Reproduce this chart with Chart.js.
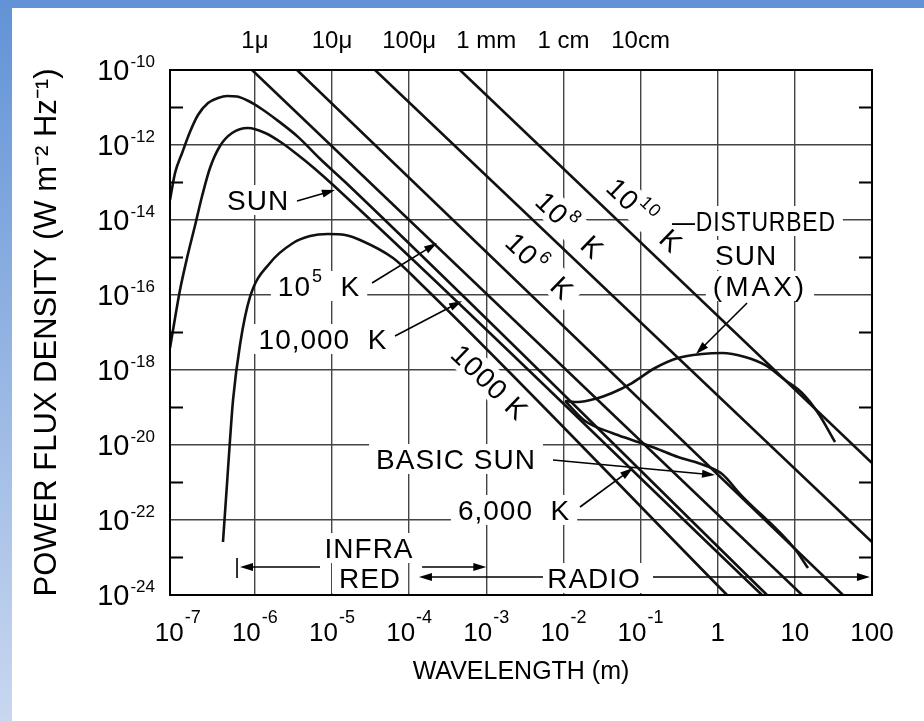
<!DOCTYPE html>
<html>
<head>
<meta charset="utf-8">
<title>Power flux density of black bodies and the sun</title>
<script src="https://cdn.jsdelivr.net/npm/chart.js@4.4.1/dist/chart.umd.min.js"></script>
<style>
  html, body { margin: 0; padding: 0; background: #fff; }
  #frame { position: relative; width: 924px; height: 721px; overflow: hidden; }
  #bandTop { position: absolute; left: 0; top: 0; width: 924px; height: 8px; background: #6193d6; }
  #bandLeft { position: absolute; left: 0; top: 0; width: 12px; height: 721px; background: linear-gradient(#6193d6, #c9d7f0); }
  canvas { position: absolute; left: 0; top: 0; }
</style>
</head>
<body>
<div id="frame">
  <div id="bandTop"></div>
  <div id="bandLeft"></div>
  <canvas id="fluxChart" width="924" height="721"></canvas>
</div>
<script>
// axes  (^{..} marks a raised exponent)
const xTickValues = [1e-7, 1e-6, 1e-5, 1e-4, 1e-3, 1e-2, 1e-1, 1, 10, 100];
const xTickLabels = ['10^{-7}', '10^{-6}', '10^{-5}', '10^{-4}', '10^{-3}', '10^{-2}', '10^{-1}', '1', '10', '100'];
const topTickValues = [1e-6, 1e-5, 1e-4, 1e-3, 1e-2, 1e-1];
const topTickLabels = ['1μ', '10μ', '100μ', '1 mm', '1 cm', '10cm'];
const yTickValues = [1e-24, 1e-23, 1e-22, 1e-21, 1e-20, 1e-19, 1e-18, 1e-17, 1e-16, 1e-15, 1e-14, 1e-13, 1e-12, 1e-11, 1e-10];
const yTickLabels = ['10^{-24}', '', '10^{-22}', '', '10^{-20}', '', '10^{-18}', '', '10^{-16}', '', '10^{-14}', '', '10^{-12}', '', '10^{-10}'];

// wavelength (m) and flux density (W m-2 Hz-1)
const lambda10k = [7.94e-8, 9.23e-8, 1.14e-7, 1.44e-7, 1.83e-7, 2.47e-7, 3.33e-7, 4.36e-7, 5.87e-7, 8.15e-7, 1.24e-6, 2.0e-6, 3.62e-6, 6.98e-6, 1.48e-5, 4.36];
const flux10k = [3.41e-14, 1.79e-13, 6.12e-13, 2.22e-12, 6.31e-12, 1.32e-11, 1.79e-11, 2.03e-11, 1.96e-11, 1.51e-11, 9.0e-12, 4.4e-12, 1.65e-12, 4.3e-13, 1.03e-13, 1e-24];

const lambdaSun = [7.94e-8, 9.23e-8, 1.07e-7, 1.32e-7, 1.67e-7, 2.07e-7, 2.62e-7, 3.53e-7, 5.06e-7, 8.15e-7, 1.36e-6, 2.25e-6, 3.62e-6, 6.03e-6, 1.0e-5, 3.75];
const fluxSun = [3.86e-18, 2.44e-17, 1.36e-16, 9.70e-16, 6.92e-15, 4.37e-14, 2.44e-13, 9.40e-13, 2.09e-12, 2.84e-12, 2.09e-12, 1.13e-12, 5.4e-13, 2.3e-13, 9.1e-14, 1e-24];

const lambda1k = [3.86e-7, 4.36e-7, 4.76e-7, 5.21e-7, 6.41e-7, 8.65e-7, 1.57e-6, 3.13e-6, 5.19e-6, 8.87e-6, 1.48e-5, 2.31e-5, 6.18e-5, 1.38e-4, 1.32];
const flux1k = [2.59e-23, 9.70e-22, 1.36e-20, 1.58e-19, 4.64e-18, 8.85e-17, 7.13e-16, 2.44e-15, 3.74e-15, 4.24e-15, 3.98e-15, 2.93e-15, 9.70e-16, 2.09e-16, 1e-24];

const lambda1e5 = [9.19e-7, 12.4];
const flux1e5 = [1e-10, 1e-24];
const lambda1e6 = [3.52e-6, 42.1];
const flux1e6 = [1e-10, 1e-24];
const lambda1e8 = [3.61e-5, 100];
const flux1e8 = [1e-10, 2.59e-23];
const lambda1e10 = [4.56e-4, 100];
const flux1e10 = [1e-10, 3.31e-21];

const lambdaDisturbed = [0.0105, 0.0155, 0.0257, 0.0427, 0.0774, 0.154, 0.305, 0.627, 1.14, 2.26, 4.10, 7.46, 12.4, 20.0, 33.2];
const fluxDisturbed = [1.49e-19, 1.40e-19, 1.69e-19, 2.44e-19, 4.50e-19, 1.13e-18, 2.09e-18, 2.67e-18, 2.84e-18, 2.22e-18, 1.36e-18, 5.41e-19, 2.44e-19, 7.13e-20, 1.20e-20];

const lambdaBasic = [0.0105, 0.0191, 0.0427, 0.0774, 0.154, 0.305, 0.556, 1.14, 1.95, 10.0, 14.8];
const fluxBasic = [1.49e-19, 4.37e-20, 2.09e-20, 1.36e-20, 8.32e-21, 4.79e-21, 3.31e-21, 1.69e-21, 4.93e-22, 1.69e-23, 5.25e-24];

// lettering on the plot, placed in data units (wavelength, flux)
const notes = [
  { text: 'SUN', at: [1.10e-6, 3.41e-14] },
  { text: '10^{5}  K', at: [6.79e-6, 1.74e-16] },
  { text: '10,000  K', at: [7.64e-6, 6.71e-18] },
  { text: '1000 K', at: [1.12e-3, 4.79e-19], angle: 44 },
  { text: '10^{6}  K', at: [4.97e-3, 5.93e-16], angle: 44 },
  { text: '10^{8}  K', at: [0.0122, 7.36e-15], angle: 44 },
  { text: '10^{10}  K', at: [0.114, 1.36e-14], angle: 44 },
  { text: '—DISTURBED', at: [0.256, 9.40e-15], align: 'left', squeeze: 0.82 },
  { text: 'SUN', at: [2.33, 1.17e-15] },
  { text: '(MAX)', at: [3.53, 1.74e-16], spacing: 3 },
  { text: 'BASIC SUN', at: [4.05e-4, 4.24e-21] },
  { text: '6,000  K', at: [2.29e-3, 1.85e-22] },
  { text: 'INFRA', at: [3.02e-5, 1.79e-23] },
  { text: 'RED', at: [3.11e-5, 2.84e-24] },
  { text: 'RADIO', at: [0.0249, 2.84e-24] }
];

const arrows = [
  { from: [3.52e-6, 3.21e-14], to: [1.09e-5, 6.31e-14] },   // SUN
  { from: [3.30e-5, 2.09e-16], to: [2.30e-4, 2.44e-15] },   // 10^5 K
  { from: [6.56e-5, 8.07e-18], to: [4.84e-4, 6.92e-17] },   // 10,000 K
  { from: [2.40, 6.12e-17], to: [0.523, 2.67e-18] },        // disturbed sun
  { from: [7.33e-3, 3.98e-21], to: [0.923, 1.58e-21] },     // basic sun
  { from: [0.0164, 2.22e-22], to: [0.0798, 2.44e-21] },     // 6,000 K
  { from: [6.98e-6, 5.58e-24], to: [6.41e-7, 5.58e-24] },   // infrared band
  { from: [1.47e-4, 5.58e-24], to: [1.0e-3, 5.58e-24] },
  { from: [5.43e-3, 3.02e-24], to: [1.34e-4, 3.02e-24] },   // radio band
  { from: [0.145, 3.02e-24], to: [94, 3.02e-24] }
];
const bandStop = { at: 5.87e-7, from: 9.7e-24, to: 2.84e-24 };

const family = '"Liberation Sans", Arial, sans-serif';

// split "10^{-12}" into plain and raised pieces
function pieces(str) {
  const out = [];
  const re = /\^\{([^}]*)\}/g;
  let last = 0, m;
  while ((m = re.exec(str))) {
    if (m.index > last) out.push({ t: str.slice(last, m.index), sup: false });
    out.push({ t: m[1], sup: true });
    last = re.lastIndex;
  }
  if (last < str.length) out.push({ t: str.slice(last), sup: false });
  return out;
}

function richWidth(ctx, str, st) {
  return pieces(str).reduce((w, p) => {
    ctx.font = (p.sup ? st.sup : st.size) + 'px ' + family;
    return w + ctx.measureText(p.t).width + (p.sup ? 1 : 0);
  }, 0);
}

// draws from left edge x on baseline y
function drawRich(ctx, str, x, y, st) {
  ctx.textAlign = 'left';
  ctx.textBaseline = 'alphabetic';
  pieces(str).forEach(p => {
    ctx.font = (p.sup ? st.sup : st.size) + 'px ' + family;
    if (p.sup) x += 1;
    ctx.fillText(p.t, x, p.sup ? y - st.rise : y);
    x += ctx.measureText(p.t).width;
  });
}

const noteStyle = { size: 28, sup: 18, rise: 14 };
const xTickStyle = { size: 26, sup: 18, rise: 18 };
const yTickStyle = { size: 29, sup: 17, rise: 13 };

const pairs = (xs, ys) => xs.map((x, i) => ({ x, y: ys[i] }));
const curve = (label, xs, ys, smooth) => ({
  label,
  data: pairs(xs, ys),
  xAxisID: 'x',
  yAxisID: 'y',
  borderColor: '#111',
  borderWidth: 2.6,
  pointRadius: 0,
  fill: false,
  tension: 0,
  cubicInterpolationMode: smooth ? 'monotone' : 'default'
});

const notePlugin = {
  id: 'notes',
  beforeDatasetsDraw(chart) {
    const { ctx, chartArea: a } = chart;
    const x = chart.scales.x, y = chart.scales.y;
    ctx.save();
    ctx.beginPath();
    ctx.rect(a.left + 1, a.top + 1, a.right - a.left - 2, a.bottom - a.top - 2);
    ctx.clip();

    const placed = notes.map(n => {
      ctx.letterSpacing = (n.spacing || 1) + 'px';
      return {
        n,
        px: x.getPixelForValue(n.at[0]),
        py: y.getPixelForValue(n.at[1]),
        w: richWidth(ctx, n.text, noteStyle)
      };
    });

    // grid is broken where the lettering sits
    placed.forEach(({ n, px, py, w }) => {
      ctx.save();
      ctx.translate(px, py);
      ctx.rotate((n.angle || 0) * Math.PI / 180);
      const sw = w * (n.squeeze || 1);
      const left = n.align === 'left' ? 0 : -sw / 2;
      ctx.fillStyle = '#fff';
      ctx.fillRect(left - 7, -15, sw + 14, 30);
      ctx.restore();
    });

    placed.forEach(({ n, px, py, w }) => {
      ctx.save();
      ctx.translate(px, py);
      ctx.rotate((n.angle || 0) * Math.PI / 180);
      ctx.scale(n.squeeze || 1, 1);
      ctx.letterSpacing = (n.spacing || 1) + 'px';
      ctx.fillStyle = '#000';
      drawRich(ctx, n.text, n.align === 'left' ? 0 : -w / 2, 10, noteStyle);
      ctx.restore();
    });

    ctx.letterSpacing = '0px';
    ctx.strokeStyle = '#000';
    ctx.fillStyle = '#000';
    ctx.lineWidth = 1.6;
    arrows.forEach(ar => {
      const x0 = x.getPixelForValue(ar.from[0]), y0 = y.getPixelForValue(ar.from[1]);
      const x1 = x.getPixelForValue(ar.to[0]), y1 = y.getPixelForValue(ar.to[1]);
      const ang = Math.atan2(y1 - y0, x1 - x0);
      const c = Math.cos(ang), s = Math.sin(ang);
      ctx.beginPath();
      ctx.moveTo(x0, y0);
      ctx.lineTo(x1 - 6 * c, y1 - 6 * s);
      ctx.stroke();
      ctx.beginPath();
      ctx.moveTo(x1, y1);
      ctx.lineTo(x1 - 13 * c + 4 * s, y1 - 13 * s - 4 * c);
      ctx.lineTo(x1 - 13 * c - 4 * s, y1 - 13 * s + 4 * c);
      ctx.closePath();
      ctx.fill();
    });
    const bx = x.getPixelForValue(bandStop.at);
    ctx.beginPath();
    ctx.moveTo(bx, y.getPixelForValue(bandStop.from));
    ctx.lineTo(bx, y.getPixelForValue(bandStop.to));
    ctx.stroke();
    ctx.restore();
  },
  afterDraw(chart) {
    const { ctx, chartArea: a } = chart;
    const x = chart.scales.x, y = chart.scales.y;
    ctx.save();
    ctx.strokeStyle = '#000';
    ctx.lineWidth = 2;
    ctx.strokeRect(a.left, a.top, a.right - a.left, a.bottom - a.top);
    // short inward ticks at the odd decades, both sides
    yTickValues.forEach((v, i) => {
      if (yTickLabels[i] !== '') return;
      const py = y.getPixelForValue(v);
      ctx.beginPath();
      ctx.moveTo(a.left, py); ctx.lineTo(a.left + 13, py);
      ctx.moveTo(a.right - 13, py); ctx.lineTo(a.right, py);
      ctx.stroke();
    });

    // tick labels with raised exponents
    ctx.fillStyle = '#000';
    x.ticks.forEach((t, i) => {
      const label = xTickLabels[i];
      const w = richWidth(ctx, label, xTickStyle);
      drawRich(ctx, label, x.getPixelForValue(t.value) - w / 2, a.bottom + 46, xTickStyle);
    });
    y.ticks.forEach((t, i) => {
      const label = yTickLabels[i];
      if (!label) return;
      const w = richWidth(ctx, label, yTickStyle);
      drawRich(ctx, label, a.left - 15 - w, y.getPixelForValue(t.value) + 10, yTickStyle);
    });
    ctx.restore();
  }
};

new Chart(document.getElementById('fluxChart'), {
  type: 'line',
  data: {
    datasets: [
      curve('10,000 K', lambda10k, flux10k, true),
      curve('Sun / 6,000 K', lambdaSun, fluxSun, true),
      curve('1000 K', lambda1k, flux1k, true),
      curve('10^5 K', lambda1e5, flux1e5, false),
      curve('10^6 K', lambda1e6, flux1e6, false),
      curve('10^8 K', lambda1e8, flux1e8, false),
      curve('10^10 K', lambda1e10, flux1e10, false),
      curve('Disturbed sun (max)', lambdaDisturbed, fluxDisturbed, true),
      curve('Basic sun', lambdaBasic, fluxBasic, true)
    ]
  },
  options: {
    responsive: false,
    animation: false,
    layout: { padding: { left: 0, top: 0, right: 52, bottom: 0 } },
    plugins: {
      legend: { display: false },
      tooltip: { enabled: false }
    },
    scales: {
      x: {
        type: 'logarithmic',
        position: 'bottom',
        min: 7.94e-8,
        max: 100,
        afterBuildTicks: s => { s.ticks = xTickValues.map(v => ({ value: v })); },
        afterFit: s => { s.height = 126; },
        ticks: { display: false },
        grid: {
          drawTicks: false,
          lineWidth: 1.4,
          color: c => (c.tick && c.tick.value < 5e-7) ? 'rgba(0,0,0,0)' : '#444'
        },
        border: { display: false },
        title: {
          display: true, text: 'WAVELENGTH (m)', color: '#000',
          font: { family, size: 25 }, padding: { top: 0, bottom: 34 }
        }
      },
      x2: {
        type: 'logarithmic',
        position: 'top',
        min: 7.94e-8,
        max: 100,
        afterBuildTicks: s => { s.ticks = topTickValues.map(v => ({ value: v })); },
        afterFit: s => { s.height = 70; },
        ticks: {
          autoSkip: false, maxRotation: 0, minRotation: 0, padding: 14, color: '#000',
          font: { family, size: 24 },
          callback: (v, i) => topTickLabels[i]
        },
        grid: { display: false, drawTicks: false },
        border: { display: false }
      },
      y: {
        type: 'logarithmic',
        position: 'left',
        min: 1e-24,
        max: 1e-10,
        afterBuildTicks: s => { s.ticks = yTickValues.map(v => ({ value: v })); },
        afterFit: s => { s.width = 170; },
        ticks: { display: false },
        grid: {
          drawTicks: false,
          lineWidth: 1.4,
          color: c => {
            if (!c.tick) return 'rgba(0,0,0,0)';
            const e = Math.round(Math.log10(c.tick.value));
            return (e % 2 === 0 && e > -24 && e < -10) ? '#444' : 'rgba(0,0,0,0)';
          }
        },
        border: { display: false },
        title: {
          display: true, text: 'POWER FLUX DENSITY (W m⁻² Hz⁻¹)', color: '#000',
          font: { family, size: 31 }, padding: { top: 29, bottom: 0 }
        }
      }
    }
  },
  plugins: [notePlugin]
});
</script>
</body>
</html>
